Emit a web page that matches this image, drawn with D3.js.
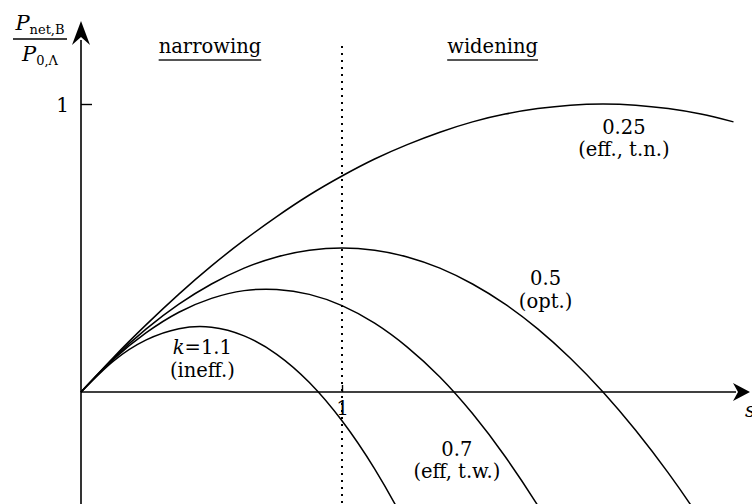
<!DOCTYPE html>
<html>
<head>
<meta charset="utf-8">
<script src="https://cdn.jsdelivr.net/npm/d3@7"></script>
<style>
  html, body { margin: 0; padding: 0; background: #fff; }
  svg { display: block; }
  text { font-family: "DejaVu Serif", serif; fill: #000; }
</style>
</head>
<body>
<svg id="chart" width="752" height="504"></svg>
<script>
// Normalised net power vs. s, one curve per loss factor k
const sValues = [0, 0.125, 0.25, 0.375, 0.5, 0.625, 0.75, 0.875, 1, 1.125, 1.25, 1.375, 1.5,
                 1.625, 1.75, 1.875, 2, 2.125, 2.25, 2.375, 2.5];
const kLabels = ["0.25", "0.5", "0.7", "1.1"];
const power025 = [0, 0.121, 0.234, 0.340, 0.438, 0.527, 0.609, 0.684, 0.750, 0.809, 0.859, 0.902, 0.938,
                  0.965, 0.984, 0.996, 1.000, 0.996, 0.984, 0.965, 0.938];
const power05  = [0, 0.117, 0.219, 0.305, 0.375, 0.430, 0.469, 0.492, 0.500, 0.492, 0.469, 0.430, 0.375,
                  0.305, 0.219, 0.117, 0.000, -0.133, -0.281, -0.445, -0.625];
const power07  = [0, 0.114, 0.206, 0.277, 0.325, 0.352, 0.356, 0.339, 0.300, 0.239, 0.156, 0.052, -0.075,
                  -0.224, -0.394, -0.586, -0.800];
const power11  = [0, 0.108, 0.181, 0.220, 0.225, 0.195, 0.131, 0.033, -0.100, -0.267, -0.469, -0.705, -0.975];
const seriesValues = [power025, power05, power07, power11];
const xTicks = [1];
const yTicks = [1];
const sectionLabels = ["narrowing", "widening"];
const curveNotes = [["0.25", "(eff., t.n.)"], ["0.5", "(opt.)"], ["0.7", "(eff, t.w.)"], ["k=1.1", "(ineff.)"]];

const svg = d3.select("#chart");
const W = 752, H = 504;
const FONT = "DejaVu Serif";

const x = d3.scaleLinear().domain([0, 1]).range([81, 342]);
const y = d3.scaleLinear().domain([0, 1]).range([392, 104]);

svg.append("defs").append("clipPath").attr("id", "plotClip")
  .append("rect").attr("x", 0).attr("y", 0).attr("width", W).attr("height", H);

// dotted divider at s = 1
svg.append("line")
  .attr("x1", x(1)).attr("x2", x(1))
  .attr("y1", 46).attr("y2", H)
  .attr("stroke", "#000").attr("stroke-width", 2)
  .attr("stroke-dasharray", "2,5");

// axes lines
svg.append("line").attr("x1", x(0)).attr("x2", 736).attr("y1", y(0)).attr("y2", y(0))
  .attr("stroke", "#000").attr("stroke-width", 1.6);
svg.append("line").attr("x1", x(0)).attr("x2", x(0)).attr("y1", 40).attr("y2", H)
  .attr("stroke", "#000").attr("stroke-width", 1.6);

// arrow heads
const ax = x(0), ay = y(0);
svg.append("path")
  .attr("d", `M${ax},21 L${ax + 9},45 L${ax},37 L${ax - 9},45 Z`)
  .attr("fill", "#000");
svg.append("path")
  .attr("d", `M750,${ay} L733,${ay - 9} L738,${ay} L733,${ay + 9} Z`)
  .attr("fill", "#000");

// ticks via d3 axes
const xAxis = d3.axisBottom(x).tickValues(xTicks).tickSize(-7).tickPadding(0).tickFormat(d3.format("d"));
const gx = svg.append("g").attr("transform", `translate(0,${y(0)})`).call(xAxis);
gx.select(".domain").remove();
gx.selectAll(".tick line").attr("stroke", "#000").attr("stroke-width", 1.4);
gx.selectAll(".tick text").attr("font-family", FONT).attr("font-size", 20)
  .attr("dy", null).attr("y", 23).attr("fill", "#000");

const yAxis = d3.axisLeft(y).tickValues(yTicks).tickSize(-11).tickPadding(12).tickFormat(d3.format("d"));
const gy = svg.append("g").attr("transform", `translate(${x(0)},0)`).call(yAxis);
gy.select(".domain").remove();
gy.selectAll(".tick line").attr("stroke", "#000").attr("stroke-width", 1.4);
gy.selectAll(".tick text").attr("font-family", FONT).attr("font-size", 20)
  .attr("dy", "0.36em").attr("fill", "#000");

// x-axis variable (partly beyond the edge)
svg.append("text").attr("x", 745).attr("y", 417)
  .attr("font-size", 20).attr("font-style", "italic").text("s");

// y-axis label as a fraction
const frac = svg.append("g");
const num = frac.append("text").attr("x", 40).attr("y", 30).attr("text-anchor", "middle");
num.append("tspan").attr("font-style", "italic").attr("font-size", 21).text("P");
num.append("tspan").attr("font-size", 13).attr("dy", 4).text("net,B");
frac.append("line").attr("x1", 13).attr("x2", 67).attr("y1", 39).attr("y2", 39)
  .attr("stroke", "#000").attr("stroke-width", 1.3);
const den = frac.append("text").attr("x", 40).attr("y", 61).attr("text-anchor", "middle");
den.append("tspan").attr("font-style", "italic").attr("font-size", 21).text("P");
den.append("tspan").attr("font-size", 13).attr("dy", 4).text("0,Λ");

// curves
const line = d3.line()
  .x((d, i) => x(sValues[i]))
  .y(d => y(d))
  .curve(d3.curveNatural);
svg.append("g").attr("clip-path", "url(#plotClip)")
  .selectAll("path")
  .data(seriesValues)
  .join("path")
  .attr("d", d => line(d))
  .attr("fill", "none")
  .attr("stroke", "#000")
  .attr("stroke-width", 1.5);

// section headings (underlined)
const sections = [{ s: 0.494, t: sectionLabels[0] }, { s: 1.577, t: sectionLabels[1] }];
sections.forEach(o => {
  const t = svg.append("text").attr("x", x(o.s)).attr("y", 53)
    .attr("text-anchor", "middle").attr("font-size", 19.5).text(o.t);
  const bb = t.node().getBBox();
  svg.append("line").attr("x1", bb.x).attr("x2", bb.x + bb.width)
    .attr("y1", 60).attr("y2", 60).attr("stroke", "#555").attr("stroke-width", 2);
});

// curve annotations, anchored in data units
const notePos = [
  { s: 2.08, p: 0.895, p2: 0.818 },
  { s: 1.78, p: 0.372, p2: 0.292 },
  { s: 1.44, p: -0.222, p2: -0.299 },
  { s: 0.465, p: 0.132, p2: 0.052 }
];
curveNotes.forEach((n, i) => {
  const pos = notePos[i];
  const t1 = svg.append("text").attr("x", x(pos.s)).attr("y", y(pos.p))
    .attr("text-anchor", "middle").attr("font-size", 19.5);
  if (n[0].startsWith("k=")) {
    t1.append("tspan").attr("font-style", "italic").text("k");
    t1.append("tspan").text("=" + n[0].slice(2));
  } else {
    t1.text(n[0]);
  }
  svg.append("text").attr("x", x(pos.s)).attr("y", y(pos.p2))
    .attr("text-anchor", "middle").attr("font-size", 19.5).text(n[1]);
});
</script>
</body>
</html>
